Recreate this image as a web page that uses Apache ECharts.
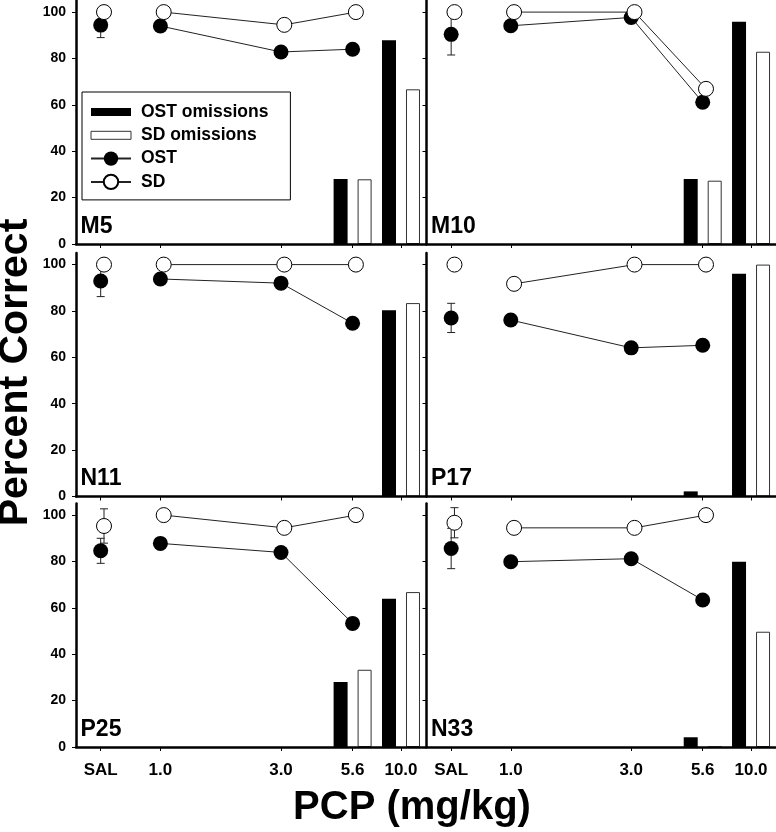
<!DOCTYPE html>
<html><head><meta charset="utf-8">
<script src="https://cdn.jsdelivr.net/npm/echarts@6/dist/echarts.min.js"></script>
<style>html,body{margin:0;padding:0;background:#fff}#c{width:776px;height:832px}</style>
</head><body><div id="c"></div>
<script>
// ---------------- data ----------------
const panelNames = ['M5', 'M10', 'N11', 'P17', 'P25', 'N33'];
const doseLabels = ['SAL', '1.0', '3.0', '5.6', '10.0'];
const yTicks = [0, 20, 40, 60, 80, 100];
// percent correct at SAL, 1.0, 3.0, 5.6 mg/kg
const ostCorrect = [
  [94.4, 94.0, 82.8, 84.0],
  [90.4, 94.1, 97.7, 61.1],
  [92.9, 93.8, 92.0, 74.7],
  [77.0, 76.1, 64.1, 65.2],
  [84.6, 87.8, 83.9, 53.3],
  [85.6, 79.9, 81.2, 63.4]
];
const sdCorrect = [
  [100, 100, 94.5, 100],
  [100, 100, 100, 66.9],
  [100, 100, 100, 100],
  [100, 91.7, 100, 100],
  [95.3, 100, 94.5, 100],
  [96.7, 94.5, 94.5, 100]
];
// error (SEM) of saline points
const ostSalErr = [5.4, 8.9, 6.7, 6.3, 5.4, 8.7];
const sdSalErr = [null, null, null, null, 7.4, 6.5];
// percent omissions at 5.6 and 10.0 mg/kg
const ostOmissions = [[28.0, 87.9], [28.0, 95.8], [0, 80.3], [2.2, 96.0], [28.0, 63.9], [4.2, 79.9]];
const sdOmissions = [[27.9, 66.7], [27.3, 82.9], [0, 83.4], [0, 100], [33.3, 66.8], [0, 49.7]];

// ---------------- layout ----------------
const dosePos = [24.7, 84.4, 205, 276.6, 325]; // position of each dose along the x axis (axis units 0..350)
const sdShift = 3.3;
const gridLeft = [76, 426.5];
const gridTop = [0.5, 253, 503.5];
const gridW = 350, gridH = 243.5, yMax = 105;
const FONT = '"Liberation Sans", Arial, Helvetica, sans-serif';

function doseLabel(v) {
  let best = 0;
  dosePos.forEach((p, k) => { if (Math.abs(p - v) < Math.abs(dosePos[best] - v)) best = k; });
  return doseLabels[best];
}
function errRender(params, api) {
  const x = api.value(0), y = api.value(1), e = api.value(2);
  const t = api.coord([x, y + e]);
  const b = api.coord([x, y - e]);
  const hw = 4;
  const style = { stroke: '#222', lineWidth: 1 };
  return { type: 'group', children: [
    { type: 'line', shape: { x1: t[0], y1: t[1], x2: b[0], y2: b[1] }, style },
    { type: 'line', shape: { x1: t[0] - hw, y1: t[1], x2: t[0] + hw, y2: t[1] }, style },
    { type: 'line', shape: { x1: b[0] - hw, y1: b[1], x2: b[0] + hw, y2: b[1] }, style }
  ]};
}

const grid = [], xAxis = [], yAxis = [], series = [], graphic = [];
panelNames.forEach((name, i) => {
  const col = i % 2, row = Math.floor(i / 2);
  grid.push({ left: gridLeft[col], top: gridTop[row], width: gridW, height: gridH });
  xAxis.push({
    gridIndex: i, type: 'value', min: 0, max: 350, z: 5,
    axisLine: { lineStyle: { color: '#000', width: 2.5 } },
    axisTick: { show: true, customValues: dosePos, length: 4, lineStyle: { color: '#000', width: 1 } },
    axisLabel: { show: row === 2, customValues: dosePos, formatter: doseLabel, margin: 15,
      fontSize: 17, fontWeight: 'bold', color: '#000', fontFamily: FONT },
    splitLine: { show: false }
  });
  yAxis.push({
    gridIndex: i, type: 'value', min: 0, max: yMax, z: 5,
    axisLine: { show: true, lineStyle: { color: '#000', width: 2.5 } },
    axisTick: { show: true, customValues: yTicks, length: 4, lineStyle: { color: '#000', width: 1 } },
    axisLabel: { show: col === 0, customValues: yTicks, margin: 10,
      fontSize: 14, fontWeight: 'bold', color: '#000', fontFamily: FONT },
    splitLine: { show: false }
  });
  const ax = { xAxisIndex: i, yAxisIndex: i };
  series.push(Object.assign({
    name: 'OST omissions', type: 'bar', barWidth: 14, barGap: '71.4%',
    itemStyle: { color: '#000' },
    data: [[dosePos[3], ostOmissions[i][0]], [dosePos[4], ostOmissions[i][1]]]
  }, ax));
  series.push(Object.assign({
    name: 'SD omissions', type: 'bar', barWidth: 14, barGap: '71.4%',
    itemStyle: { color: '#fff', borderColor: '#333', borderWidth: 1 },
    data: [[dosePos[3], sdOmissions[i][0]], [dosePos[4], sdOmissions[i][1]]]
  }, ax));
  series.push(Object.assign({
    name: 'OST SEM', type: 'custom', renderItem: errRender, encode: { x: 0, y: 1 },
    data: ostSalErr[i] == null ? [] : [[dosePos[0], ostCorrect[i][0], ostSalErr[i]]]
  }, ax));
  series.push(Object.assign({
    name: 'SD SEM', type: 'custom', renderItem: errRender, encode: { x: 0, y: 1 },
    data: sdSalErr[i] == null ? [] : [[dosePos[0] + sdShift, sdCorrect[i][0], sdSalErr[i]]]
  }, ax));
  const ostLine = [1, 2, 3].map(k => [dosePos[k], ostCorrect[i][k]]);
  const sdLine = [1, 2, 3].map(k => [dosePos[k] + sdShift, sdCorrect[i][k]]);
  series.push(Object.assign({
    name: 'OST', type: 'line', symbol: 'circle', symbolSize: 15,
    itemStyle: { color: '#000' }, lineStyle: { color: '#222', width: 1 }, data: ostLine
  }, ax));
  series.push(Object.assign({
    name: 'OST', type: 'scatter', symbol: 'circle', symbolSize: 15,
    itemStyle: { color: '#000', opacity: 1 }, data: [[dosePos[0], ostCorrect[i][0]]]
  }, ax));
  series.push(Object.assign({
    name: 'SD', type: 'line', symbol: 'circle', symbolSize: 15,
    itemStyle: { color: '#fff', borderColor: '#000', borderWidth: 1 },
    lineStyle: { color: '#222', width: 1 }, data: sdLine
  }, ax));
  series.push(Object.assign({
    name: 'SD', type: 'scatter', symbol: 'circle', symbolSize: 15,
    itemStyle: { color: '#fff', borderColor: '#000', borderWidth: 1, opacity: 1 },
    data: [[dosePos[0] + sdShift, sdCorrect[i][0]]]
  }, ax));
  graphic.push({
    type: 'text', x: gridLeft[col] + 4.5, y: gridTop[row] + gridH - 17.4,
    style: { text: name, fontSize: 23, fontWeight: 'bold', fontFamily: FONT, fill: '#000',
      align: 'left', verticalAlign: 'middle' }
  });
});

graphic.push({
  type: 'text', x: 15.5, y: 372.5, rotation: Math.PI / 2,
  style: { text: 'Percent Correct', fontSize: 41, fontWeight: 'bold', fontFamily: FONT, fill: '#000',
    align: 'center', verticalAlign: 'middle' }
});
graphic.push({
  type: 'text', x: 412, y: 808,
  style: { text: 'PCP (mg/kg)', fontSize: 40, fontWeight: 'bold', fontFamily: FONT, fill: '#000',
    align: 'center', verticalAlign: 'middle' }
});

const barIcon = 'path://M0,0H40V8H0Z';
const chart = echarts.init(document.getElementById('c'), null, { renderer: 'canvas' });
chart.setOption({
  animation: false,
  backgroundColor: '#fff',
  grid, xAxis, yAxis, series, graphic,
  legend: {
    data: [
      { name: 'OST omissions', icon: barIcon, itemStyle: { color: '#000' } },
      { name: 'SD omissions', icon: barIcon, itemStyle: { color: '#fff', borderColor: '#333', borderWidth: 1 } },
      { name: 'OST' },
      { name: 'SD' }
    ],
    orient: 'vertical', left: 82, top: 92, itemWidth: 40, itemHeight: 18, itemGap: 5.3,
    padding: [11, 22, 9, 8], borderColor: '#000', borderWidth: 1, backgroundColor: '#fff',
    selectedMode: false,
    textStyle: { fontSize: 17.5, fontWeight: 'bold', color: '#000', fontFamily: FONT, padding: [0, 0, 0, 5] }
  }
});
</script></body></html>
